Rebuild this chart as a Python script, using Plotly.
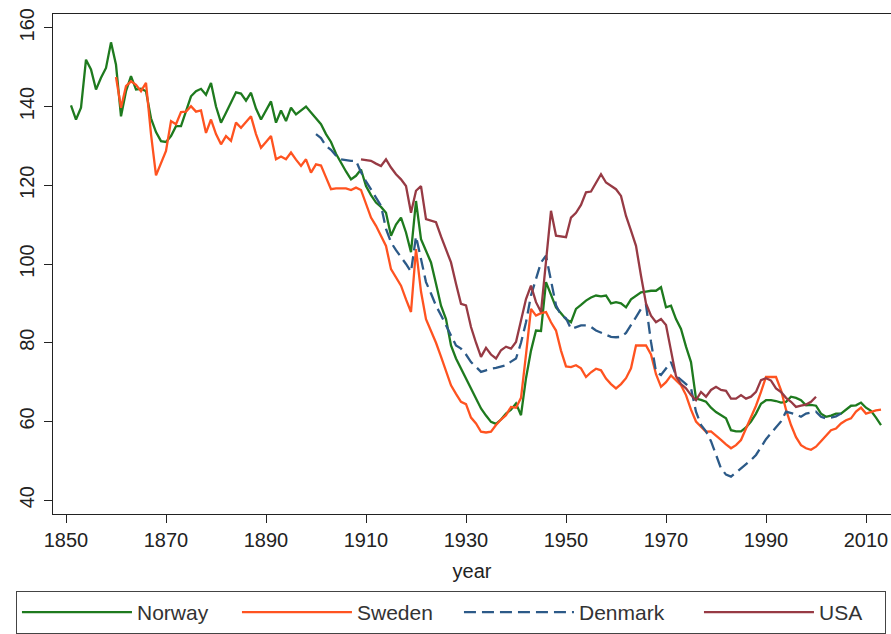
import plotly.graph_objects as go

# ---------------- data ----------------
norway_years = list(range(1851, 2014))
norway_values = [
    140.3, 136.7, 139.7, 151.9, 149.4, 144.3, 147.3, 149.8, 156.3, 150.6,  # 1851-1860
    137.5, 143.9, 147.7, 144.3, 144.5, 143.9, 137.0, 133.5, 131.2, 131.0,  # 1861-1870
    132.5, 135.0, 135.0, 139.0, 142.6, 143.9, 144.5, 143.0, 146.0, 140.0,  # 1871-1880
    135.9, 138.4, 141.0, 143.6, 143.3, 141.5, 143.5, 139.5, 136.7, 139.0,  # 1881-1890
    141.3, 135.9, 139.0, 136.3, 139.7, 138.0, 139.0, 140.0, 138.5, 137.0,  # 1891-1900
    135.5, 133.0, 131.0, 128.0, 125.7, 123.5, 121.5, 122.4, 124.0, 119.8,  # 1901-1910
    117.5, 115.6, 114.5, 113.0, 107.2, 110.0, 111.8, 108.0, 103.0, 116.0,  # 1911-1920
    106.3, 103.5, 100.4, 95.0, 89.4, 86.0, 79.3, 76.0, 73.4, 71.0,         # 1921-1930
    68.5, 65.5, 63.3, 61.5, 59.9, 59.4, 60.5, 62.0, 63.0, 64.6,            # 1931-1940
    61.6, 71.0, 78.0, 83.1, 83.0, 95.4, 92.0, 89.0, 87.5, 86.0,            # 1941-1950
    85.2, 88.6, 89.6, 90.7, 91.5, 92.0, 91.8, 92.0, 90.0, 90.3,            # 1951-1960
    90.0, 89.0, 91.0, 92.0, 92.8, 93.0, 93.2, 93.2, 94.1, 89.0,            # 1961-1970
    89.4, 86.0, 83.5, 79.0, 75.1, 65.8, 65.5, 65.0, 63.5, 62.4,            # 1971-1980
    61.5, 60.8, 57.8, 57.5, 57.5, 58.5, 60.0, 62.0, 64.5, 65.4,            # 1981-1990
    65.4, 65.2, 64.8, 65.0, 66.3, 66.0, 65.4, 64.1, 64.2, 64.0,            # 1991-2000
    62.0, 61.2, 61.5, 62.0, 62.0, 62.9, 64.0, 64.1, 64.8, 63.5,            # 2001-2010
    62.7, 61.0, 59.1,                                                      # 2011-2013
]

sweden_years = list(range(1860, 2014))
sweden_values = [
    147.5,                                                                 # 1860
    139.7, 145.2, 146.4, 145.5, 143.9, 146.0, 133.0, 122.5, 125.5, 128.7,  # 1861-1870
    136.3, 135.5, 138.6, 138.7, 140.1, 138.7, 139.0, 133.3, 136.7, 133.0,  # 1871-1880
    130.4, 132.5, 131.3, 135.9, 134.6, 136.0, 137.5, 133.0, 129.5, 131.0,  # 1881-1890
    132.5, 126.6, 127.3, 126.6, 128.3, 126.5, 124.9, 126.6, 123.2, 125.3,  # 1891-1900
    125.0, 122.0, 119.0, 119.2, 119.2, 119.2, 118.8, 119.4, 118.8, 115.0,  # 1901-1910
    111.8, 109.7, 107.0, 104.6, 98.7, 96.5, 94.5, 91.0, 87.8, 103.8,       # 1911-1920
    93.0, 86.0, 83.0, 80.0, 76.5, 73.0, 69.2, 67.0, 65.0, 64.4,            # 1921-1930
    61.0, 59.5, 57.4, 57.2, 57.4, 59.1, 60.5, 61.6, 63.7, 63.5,            # 1931-1940
    66.0, 77.0, 88.6, 86.9, 87.5, 87.8, 85.2, 83.1, 78.0, 74.0,            # 1941-1950
    73.8, 74.3, 73.5, 71.3, 72.5, 73.4, 73.0, 70.9, 69.5, 68.4,            # 1951-1960
    69.5, 71.0, 73.5, 79.3, 79.3, 79.3, 77.0, 72.0, 68.8, 70.0,            # 1961-1970
    71.7, 70.5, 69.2, 66.7, 63.0, 60.0, 58.7, 57.4, 57.5, 56.5,            # 1971-1980
    55.3, 54.2, 53.2, 54.0, 55.3, 58.2, 61.0, 64.0, 67.5, 71.3,            # 1981-1990
    71.3, 71.3, 68.0, 63.0, 59.1, 56.0, 54.0, 53.2, 52.8, 53.6,            # 1991-2000
    55.0, 56.5, 57.8, 58.2, 59.5, 60.3, 60.8, 62.5, 63.5, 62.0,            # 2001-2010
    62.5, 62.8, 63.0,                                                      # 2011-2013
]

denmark_years = list(range(1900, 2006))
denmark_values = [
    133.0,                                                                 # 1900
    132.0, 130.0, 129.0, 127.5, 126.6, 126.4, 126.2, 126.2, 123.3, 121.0,  # 1901-1910
    119.0, 117.0, 114.8, 108.9, 105.5, 103.5, 101.8, 100.0, 98.0, 107.0,   # 1911-1920
    101.3, 95.4, 92.5, 89.4, 87.0, 84.4, 82.0, 79.3, 78.5, 77.0,           # 1921-1930
    75.1, 73.8, 72.6, 73.0, 73.4, 73.6, 74.0, 74.3, 75.2, 76.0,            # 1931-1940
    80.0, 85.2, 92.0, 96.0, 100.4, 102.1, 95.4, 89.5, 87.0, 86.2,          # 1941-1950
    83.5, 84.0, 84.4, 84.4, 84.0, 83.1, 82.5, 82.0, 81.5, 81.4,            # 1951-1960
    81.5, 82.5, 84.4, 86.5, 88.6, 89.6, 80.2, 72.6, 71.8, 73.5,            # 1961-1970
    75.1, 71.7, 70.5, 69.5, 68.4, 62.5, 59.1, 57.5, 55.0, 51.5,            # 1971-1980
    48.1, 46.5, 46.0, 47.0, 48.1, 49.0, 50.2, 51.5, 53.5, 55.5,            # 1981-1990
    57.0, 58.5, 60.0, 62.5, 62.2, 61.8, 61.2, 62.0, 62.3, 62.5,            # 1991-2000
    61.2, 60.8, 61.0, 61.3, 62.0,                                          # 2001-2005
]

usa_years = list(range(1909, 2001))
usa_values = [
    126.6, 126.4,                                                          # 1909-1910
    126.2, 125.5, 124.9, 126.6, 124.5, 122.8, 121.5, 119.8, 113.0, 118.6,  # 1911-1920
    119.8, 111.4, 111.0, 110.6, 107.0, 103.5, 100.4, 95.0, 89.9, 89.5,     # 1921-1930
    84.0, 80.0, 76.4, 78.7, 77.0, 76.0, 78.1, 79.0, 78.5, 80.2,            # 1931-1940
    86.0, 91.1, 94.5, 90.3, 87.8, 100.0, 113.5, 107.2, 107.0, 106.8,       # 1941-1950
    111.8, 113.0, 115.0, 118.2, 118.4, 120.5, 122.8, 120.7, 119.8, 119.0,  # 1951-1960
    117.3, 112.2, 108.5, 104.6, 97.0, 90.0, 86.9, 85.2, 86.0, 84.5,        # 1961-1970
    78.0, 71.5, 69.5, 68.4, 66.7, 65.4, 67.5, 66.3, 68.0, 68.8,            # 1971-1980
    68.0, 67.8, 65.8, 65.8, 66.7, 65.8, 66.3, 67.5, 70.5, 71.0,            # 1981-1990
    70.4, 68.4, 67.5, 66.0, 65.0, 63.7, 64.0, 64.3, 65.0, 66.3,            # 1991-2000
]

x_tick_values = [1850, 1870, 1890, 1910, 1930, 1950, 1970, 1990, 2010]
y_tick_values = [40, 60, 80, 100, 120, 140, 160]

# name, years, values, colour, dash, legend entry width
series = [
    ("Norway", norway_years, norway_values, "#1e7a1e", "solid", 95),
    ("Sweden", sweden_years, sweden_values, "#ff5320", "solid", 97),
    ("Denmark", denmark_years, denmark_values, "#2c5a88", "12px,6px", 115),
    ("USA", usa_years, usa_values, "#973a44", "solid", 61),
]

# ---------------- figure ----------------
FONT = "Liberation Sans, Arial, sans-serif"
fig = go.Figure()
for name, xs, ys, color, dash, lw in series:
    fig.add_trace(go.Scatter(
        x=xs, y=ys, mode="lines", name=name,
        line=dict(color=color, width=2.3, dash=dash),
        legendwidth=lw,
    ))

axis_common = dict(
    showgrid=False, zeroline=False, showline=True, linecolor="#222",
    linewidth=1.3, mirror=True, ticks="outside", ticklen=8, tickwidth=1,
    tickcolor="#222", tickfont=dict(family=FONT, size=20, color="#222"),
)

fig.update_layout(
    width=891, height=634,
    paper_bgcolor="white", plot_bgcolor="white",
    margin=dict(l=53, r=0, t=14, b=119),
    font=dict(family=FONT, color="#222"),
    xaxis=dict(
        range=[1847.4, 2015.0], tickvals=x_tick_values,
        ticklabelstandoff=0,
        title=dict(text="year", font=dict(family=FONT, size=20, color="#222"), standoff=13),
        **axis_common,
    ),
    yaxis=dict(
        range=[36.5, 163.5], tickvals=y_tick_values, tickangle=-90,
        ticklabelstandoff=2,
        **axis_common,
    ),
    legend=dict(
        orientation="h", x=-0.0442, xanchor="left", y=-0.1537, yanchor="top",
        bordercolor="#444", borderwidth=1, bgcolor="white",
        font=dict(family=FONT, size=21, color="#333"),
        itemwidth=110, tracegroupgap=0,
    ),
    showlegend=True,
)

fig.write_html(
    "out.html",
    config={"displayModeBar": False},
    post_script="document.body.style.margin='0';",
)
